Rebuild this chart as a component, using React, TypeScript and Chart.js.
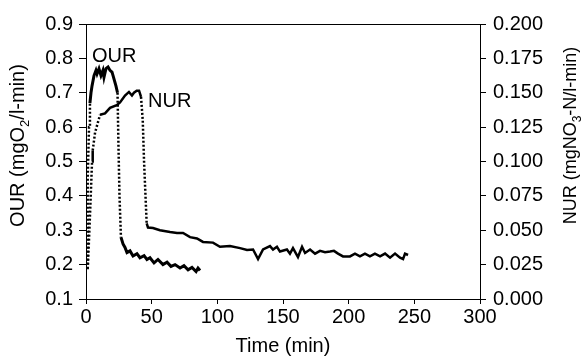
import React, { useEffect, useRef } from "react";
import { Chart, registerables } from "chart.js";

Chart.register(...registerables);

// OUR series (mgO2/l-min) vs time (min)
const ourTime = [0.8, 1.1, 1.5, 2.3, 3, 3.8, 4.6, 6.1, 7.6, 8.4, 9.9, 11.4, 12.9, 13.7, 15.2, 16.8, 18.3, 19.8, 20.6, 22.8, 24, 24.7, 25.5, 26.6, 28.2, 29.7, 31.2, 33.5, 35.8, 38.8, 41.1, 44.2, 46.4, 48.7, 51.8, 54.8, 58.6, 61.7, 64.7, 67.8, 71.6, 74.6, 77.7, 80.7, 83.8, 85.3, 86.8];
const ourValues = [0.19, 0.3, 0.45, 0.6, 0.67, 0.7, 0.72, 0.75, 0.765, 0.755, 0.77, 0.75, 0.765, 0.745, 0.77, 0.775, 0.765, 0.76, 0.75, 0.72, 0.7, 0.55, 0.4, 0.28, 0.26, 0.25, 0.235, 0.24, 0.225, 0.232, 0.22, 0.226, 0.215, 0.22, 0.205, 0.215, 0.2, 0.207, 0.195, 0.2, 0.19, 0.197, 0.185, 0.192, 0.18, 0.19, 0.183];

// NUR series (mgNO3-N/l-min) vs time (min)
const nurTime = [1.5, 3, 4.6, 5.1, 6.9, 10.7, 14.5, 18.3, 23.4, 25.9, 29.7, 32.7, 35, 36.5, 38.6, 40.4, 41.9, 43.2, 44.2, 45.3, 46.2, 47.2, 51, 56.3, 64, 69.3, 73.9, 79.2, 84.5, 89.1, 96.7, 102, 109.6, 117.3, 122.6, 127.2, 131, 134.8, 140.1, 142.4, 145.4, 147.7, 153, 155.3, 157.6, 161.4, 164.5, 166.8, 170.6, 174.4, 178.2, 182, 185.8, 188.8, 191.9, 195.7, 201, 204.8, 208.6, 212.4, 216.2, 220, 223.9, 227.7, 231.5, 235.3, 239.1, 241.4, 242.9, 245.2];
const nurValues = [0.025, 0.06, 0.1, 0.108, 0.121, 0.134, 0.135, 0.139, 0.141, 0.143, 0.148, 0.1506, 0.148, 0.15, 0.1515, 0.1515, 0.147, 0.13, 0.1, 0.075, 0.055, 0.052, 0.0516, 0.05, 0.0487, 0.048, 0.048, 0.045, 0.044, 0.0415, 0.041, 0.038, 0.0385, 0.037, 0.0356, 0.036, 0.029, 0.036, 0.0385, 0.036, 0.038, 0.0345, 0.036, 0.033, 0.037, 0.0305, 0.038, 0.0335, 0.036, 0.033, 0.035, 0.034, 0.0345, 0.035, 0.033, 0.031, 0.031, 0.033, 0.031, 0.033, 0.031, 0.033, 0.031, 0.033, 0.03, 0.033, 0.03, 0.029, 0.033, 0.032];

const xTicks = [0, 50, 100, 150, 200, 250, 300];
const leftTicks = [0.1, 0.2, 0.3, 0.4, 0.5, 0.6, 0.7, 0.8, 0.9];
const rightTicks = [0, 0.025, 0.05, 0.075, 0.1, 0.125, 0.15, 0.175, 0.2];

// in-chart series labels: [text, time, OUR-axis value]
const seriesLabels: [string, number, number][] = [
  ["OUR", 4.6, 0.79],
  ["NUR", 47.2, 0.658],
];

const FONT = "'Liberation Sans', Arial, Helvetica, sans-serif";

const steepSegment = (ctx: any) => {
  const dx = Math.abs(ctx.p1.x - ctx.p0.x);
  const dy = Math.abs(ctx.p1.y - ctx.p0.y);
  return dy > 12 && dy > dx * 3;
};

function drawSubText(ctx: CanvasRenderingContext2D, parts: [string, boolean][], size: number) {
  // measure total
  let total = 0;
  for (const [t, sub] of parts) {
    ctx.font = `${sub ? Math.round(size * 0.65) : size}px ${FONT}`;
    total += ctx.measureText(t).width;
  }
  let x = -total / 2;
  for (const [t, sub] of parts) {
    ctx.font = `${sub ? Math.round(size * 0.65) : size}px ${FONT}`;
    ctx.fillText(t, x, sub ? size * 0.62 : size * 0.35);
    x += ctx.measureText(t).width;
  }
}

const extrasPlugin = {
  id: "extras",
  afterDraw(chart: any) {
    const { ctx, chartArea, scales } = chart;
    ctx.save();
    // top frame line
    ctx.strokeStyle = "#000";
    ctx.lineWidth = 1;
    ctx.beginPath();
    ctx.moveTo(chartArea.left, chartArea.top + 0.5);
    ctx.lineTo(chartArea.right, chartArea.top + 0.5);
    ctx.stroke();
    // series labels
    ctx.fillStyle = "#000";
    ctx.font = `20px ${FONT}`;
    ctx.textBaseline = "alphabetic";
    ctx.textAlign = "left";
    for (const [t, x, y] of seriesLabels) {
      ctx.fillText(t, scales.x.getPixelForValue(x), scales.y.getPixelForValue(y));
    }
    // y titles (rotated, reading upward)
    const midY = (chartArea.top + chartArea.bottom) / 2;
    ctx.save();
    ctx.translate(17, midY - 16);
    ctx.rotate(-Math.PI / 2);
    drawSubText(ctx, [["OUR (mgO", false], ["2", true], ["/l-min)", false]], 20);
    ctx.restore();
    ctx.save();
    ctx.translate(570, midY - 26);
    ctx.rotate(-Math.PI / 2);
    drawSubText(ctx, [["NUR (mgNO", false], ["3", true], ["-N/l-min)", false]], 18);
    ctx.restore();
    ctx.restore();
  },
};

export default function App() {
  const ref = useRef<HTMLCanvasElement>(null);
  useEffect(() => {
    document.body.style.margin = "0";
    const canvas = ref.current!;
    const axisCommon = {
      grid: { drawOnChartArea: false, drawTicks: true, tickColor: "#000", tickWidth: 1 },
      border: { color: "#000", width: 1 },
    };
    const chart = new Chart(canvas, {
      type: "line",
      data: {
        datasets: [
          {
            label: "OUR",
            data: ourTime.map((t, i) => ({ x: t, y: ourValues[i] })),
            yAxisID: "y",
            borderColor: "#000",
            borderWidth: 3,
            pointRadius: 0,
            tension: 0,
            segment: {
              borderDash: (c: any) => (steepSegment(c) ? [2, 2] : undefined),
              borderWidth: (c: any) => (steepSegment(c) ? 2.5 : undefined),
            },
          },
          {
            label: "NUR",
            data: nurTime.map((t, i) => ({ x: t, y: nurValues[i] })),
            yAxisID: "y2",
            borderColor: "#000",
            borderWidth: 2.5,
            pointRadius: 0,
            tension: 0,
            segment: {
              borderDash: (c: any) => (steepSegment(c) ? [2, 2] : undefined),
              borderWidth: (c: any) => (steepSegment(c) ? 2.5 : undefined),
            },
          },
        ],
      },
      options: {
        animation: false,
        responsive: false,
        devicePixelRatio: 1,
        layout: { padding: { top: 24, left: 0, right: 0, bottom: 0 } },
        plugins: { legend: { display: false }, tooltip: { enabled: false } },
        scales: {
          x: {
            type: "linear",
            min: xTicks[0],
            max: xTicks[xTicks.length - 1],
            afterBuildTicks: (s: any) => { s.ticks = xTicks.map((v) => ({ value: v })); },
            ticks: { color: "#000", font: { family: FONT, size: 20 }, padding: 1, maxRotation: 0, autoSkip: false },
            ...axisCommon,
            grid: { ...axisCommon.grid, tickLength: 5 },
            title: { display: true, text: "Time (min)", color: "#000", font: { family: FONT, size: 20 }, padding: { top: 0, bottom: 0 } },
            afterFit: (s: any) => { s.height = 59; },
          },
          y: {
            type: "linear",
            position: "left",
            min: 0.1,
            max: 0.9,
            afterBuildTicks: (s: any) => { s.ticks = leftTicks.map((v) => ({ value: v })); },
            ticks: { color: "#000", font: { family: FONT, size: 20 }, padding: 6, callback: (v: any) => Number(v).toFixed(1) },
            ...axisCommon,
            grid: { ...axisCommon.grid, tickLength: 7 },
            afterFit: (s: any) => { s.width = 86; },
          },
          y2: {
            type: "linear",
            position: "right",
            min: 0,
            max: 0.2,
            afterBuildTicks: (s: any) => { s.ticks = rightTicks.map((v) => ({ value: v })); },
            ticks: { color: "#000", font: { family: FONT, size: 20 }, padding: 7, callback: (v: any) => Number(v).toFixed(3) },
            ...axisCommon,
            grid: { ...axisCommon.grid, tickLength: 6 },
            afterFit: (s: any) => { s.width = 102; },
          },
        },
      },
      plugins: [extrasPlugin],
    } as any);
    return () => chart.destroy();
  }, []);
  return (
    <div style={{ width: 582, height: 358 }}>
      <canvas ref={ref} width={582} height={358} style={{ display: "block" }} />
    </div>
  );
}
